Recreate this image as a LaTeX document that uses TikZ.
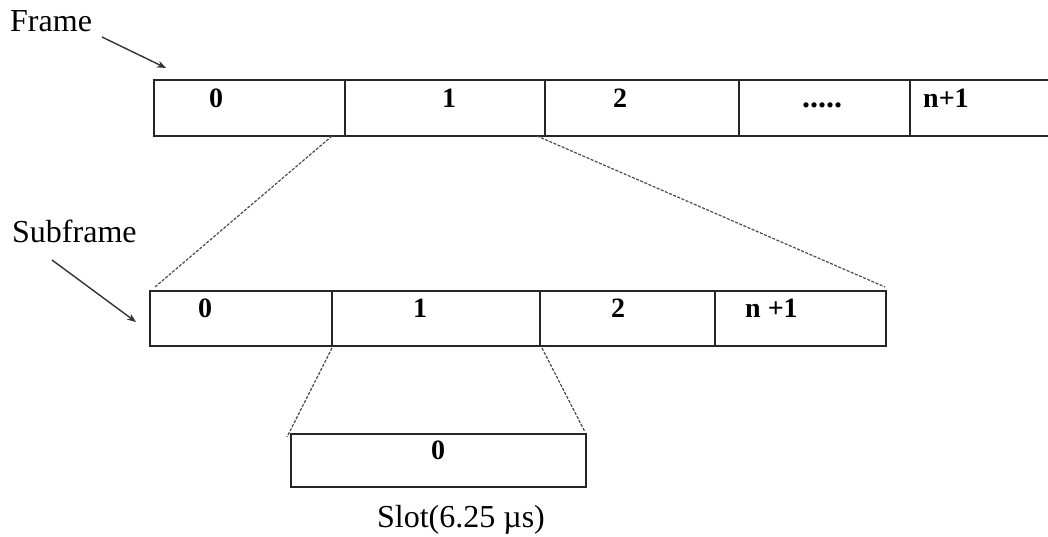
\documentclass[tikz,border=0pt]{standalone}
\usepackage{fontspec}
\setmainfont{Liberation Serif}
\usetikzlibrary{arrows.meta}
\begin{document}
\begin{tikzpicture}[x=1pt,y=-1pt,
  cell/.style={draw=black!85, line width=1.3pt, rectangle, inner sep=0pt, outer sep=0pt},
  num/.style={font=\fontsize{28}{30}\selectfont\bfseries, inner sep=0pt, anchor=base},
  caption/.style={font=\fontsize{32}{36}\selectfont, inner sep=0pt},
  zoomline/.style={draw=black!70, line width=1.2pt, dash pattern=on 3pt off 1.5pt},
  pointer/.style={draw=black!80, line width=1.4pt, -{Stealth[length=9pt,width=7pt]}}]
\useasboundingbox (0,0) rectangle (1048,536);

% frame row
\node[cell, minimum width=191, minimum height=56] (f0) at (249.5,108) {};
\node[cell, minimum width=200, minimum height=56] (f1) at (445,108) {};
\node[cell, minimum width=194, minimum height=56] (f2) at (642,108) {};
\node[cell, minimum width=171, minimum height=56] (f3) at (824.5,108) {};
\node[cell, minimum width=145, minimum height=56] (f4) at (982.5,108) {};
\node[num] (f0t) at (216,107) {0};
\node[num] (f1t) at (449,107) {1};
\node[num] (f2t) at (620,107) {2};
\node[num, font=\fontsize{32}{34}\selectfont\bfseries] (f3t) at (822,107) {.....};
\node[num, anchor=base west] (f4t) at (923,107) {n+1};

% subframe row
\node[cell, minimum width=182, minimum height=55] (s0) at (241,318.5) {};
\node[cell, minimum width=208, minimum height=55] (s1) at (436,318.5) {};
\node[cell, minimum width=175, minimum height=55] (s2) at (627.5,318.5) {};
\node[cell, minimum width=171, minimum height=55] (s3) at (800.5,318.5) {};
\node[num] (s0t) at (205,317) {0};
\node[num] (s1t) at (420,317) {1};
\node[num] (s2t) at (618,317) {2};
\node[num, anchor=base west] (s3t) at (745,317) {n +1};

% slot
\node[cell, minimum width=295, minimum height=53] (sl) at (438.5,460.5) {};
\node[num] (slt) at (438,459) {0};
\node[caption, anchor=base] (slcap) at (461,527) {Slot(6.25 µs)};

% side labels and pointers
\node[caption, anchor=base west] (lframe) at (10,31) {Frame};
\node[caption, anchor=base west] (lsub) at (12,242) {Subframe};
\coordinate (pf1) at (102,37);
\coordinate (pf2) at (166,68);
\coordinate (ps1) at (52,260);
\coordinate (ps2) at (136,322);
\draw[pointer] (pf1) -- (pf2);
\draw[pointer] (ps1) -- (ps2);

% zoom-in guide lines
\coordinate (za) at (332,136);
\coordinate (zb) at (155,287);
\coordinate (zc) at (537,136);
\coordinate (zd) at (885,287);
\coordinate (ze) at (332,348);
\coordinate (zf) at (287,437);
\coordinate (zg) at (542,348);
\coordinate (zh) at (585,432);
\draw[zoomline] (za) -- (zb);
\draw[zoomline] (zc) -- (zd);
\draw[zoomline] (ze) -- (zf);
\draw[zoomline] (zg) -- (zh);
\end{tikzpicture}
\end{document}
